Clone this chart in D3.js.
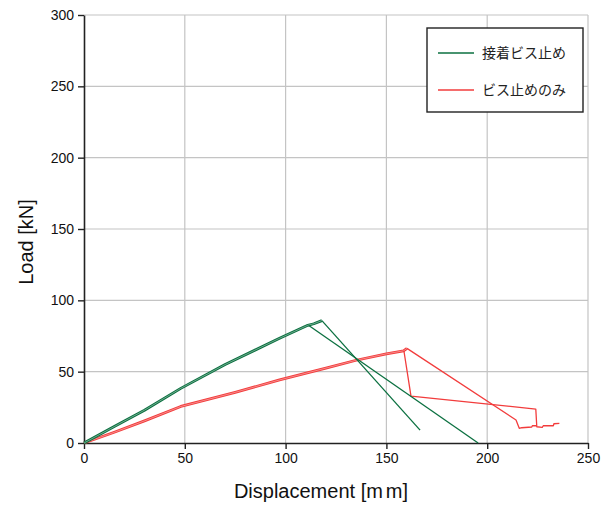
<!DOCTYPE html>
<html><head><meta charset="utf-8">
<script src="https://cdn.jsdelivr.net/npm/d3@7"></script>
<style>
html,body{margin:0;padding:0;background:#fff;}
svg{display:block;}
</style></head>
<body>
<svg id="chart" width="610" height="506"></svg>
<script>
// ---- data ----
const xTicks = [0, 50, 100, 150, 200, 250];
const yTicks = [0, 50, 100, 150, 200, 250, 300];
const seriesNames = ["接着ビス止め", "ビス止めのみ"];
const seriesColors = ["#0b7040", "#f23c3c"];

// 接着ビス止め
const greenRise = [[0,0],[15,11.5],[30,23],[48,38.3],[70,55],[97,73.4],[111,82.5],[114,83.6],[118,85.8]];
const greenDropA = [[118,85.8],[166.7,9]];
const greenDropB = [[111.5,82.4],[195.5,0]];

// ビス止めのみ
const redRise = [[0,0],[15,7.5],[30,15.5],[48,25.6],[75,35.5],[97,44.2],[120,52.5],[135,58],[150,62.5],[158.5,64.6],[160.2,66.3]];
const redDropA = [[158.7,64.5],[162.2,32.9],[224.1,23.8],[224.6,11.4],[227.3,11.0],[227.8,12.1],[232.8,12.1],[233.1,13.5],[235.8,13.8]];
const redDropB = [[160.2,66.3],[214.3,16.1],[215.9,10.3],[217.1,10.7],[222.1,11.2],[222.4,12.1],[224.6,12.1]];

// ---- layout ----
const svg = d3.select("#chart");
const L = 84, R = 588, T = 15, B = 443;
const x = d3.scaleLinear().domain([0, 250]).range([L, R]);
const y = d3.scaleLinear().domain([0, 300]).range([B, T]);
const font = "Arial, 'Liberation Sans', sans-serif";

// grid
const g = svg.append("g");
g.selectAll("line.vg").data(xTicks.filter(d => d > 0)).join("line")
  .attr("x1", d => x(d)).attr("x2", d => x(d)).attr("y1", T).attr("y2", B)
  .attr("stroke", "#c4c4c4").attr("stroke-width", 1.2);
g.selectAll("line.hg").data(yTicks.filter(d => d > 0)).join("line")
  .attr("y1", d => y(d)).attr("y2", d => y(d)).attr("x1", L).attr("x2", R)
  .attr("stroke", "#c4c4c4").attr("stroke-width", 1.2);

// axes
const xAxis = svg.append("g").attr("transform", `translate(0,${B})`)
  .call(d3.axisBottom(x).tickValues(xTicks).tickSize(6).tickPadding(4).tickSizeOuter(0));
const yAxis = svg.append("g").attr("transform", `translate(${L},0)`)
  .call(d3.axisLeft(y).tickValues(yTicks).tickSize(6).tickPadding(4).tickSizeOuter(0));
[xAxis, yAxis].forEach(a => {
  a.select(".domain").attr("stroke", "#222").attr("stroke-width", 1.6);
  a.selectAll(".tick line").attr("stroke", "#222").attr("stroke-width", 1.4);
  a.selectAll(".tick text").attr("font-family", font).attr("font-size", 14).attr("fill", "#111");
});

// axis titles
const xt = svg.append("text").attr("x", 321).attr("y", 498).attr("text-anchor", "middle")
  .attr("font-family", font).attr("font-size", 20).attr("fill", "#111");
xt.append("tspan").text("Displacement [");
xt.append("tspan").attr("letter-spacing", 3).text("m");
xt.append("tspan").text("m]");
svg.append("text").attr("transform", "translate(33,242) rotate(-90)").attr("text-anchor", "middle")
  .attr("font-family", font).attr("font-size", 20).attr("fill", "#111")
  .text("Load [kN]");

// lines
const line = d3.line().x(d => x(d[0])).y(d => y(d[1]));
const plot = svg.append("g");
function band(data, color) {
  plot.append("path").attr("d", line(data)).attr("fill", "none")
    .attr("stroke", color).attr("stroke-width", 2.8).attr("stroke-linejoin", "round");
  plot.append("path").attr("d", line(data)).attr("fill", "none")
    .attr("stroke", "#fff").attr("stroke-opacity", 0.4).attr("stroke-width", 1);
}
function thin(data, color) {
  plot.append("path").attr("d", line(data)).attr("fill", "none")
    .attr("stroke", color).attr("stroke-width", 1.3).attr("stroke-linejoin", "round");
}
band(redRise, seriesColors[1]);
thin(redDropA, seriesColors[1]);
thin(redDropB, seriesColors[1]);
band(greenRise, seriesColors[0]);
thin(greenDropA, seriesColors[0]);
thin(greenDropB, seriesColors[0]);

// legend
const lg = svg.append("g");
lg.append("rect").attr("x", 427).attr("y", 28).attr("width", 156).attr("height", 84)
  .attr("fill", "#fff").attr("stroke", "#222").attr("stroke-width", 1.4);
seriesNames.forEach((name, i) => {
  const yy = 53 + i * 37;
  lg.append("line").attr("x1", 438).attr("x2", 474).attr("y1", yy).attr("y2", yy)
    .attr("stroke", seriesColors[i]).attr("stroke-width", 1.4);
  lg.append("text").attr("x", 482).attr("y", yy + 5)
    .attr("font-family", "'Noto Sans CJK JP', sans-serif").attr("font-size", 14).attr("fill", "#222")
    .text(name);
});
</script>
</body></html>
